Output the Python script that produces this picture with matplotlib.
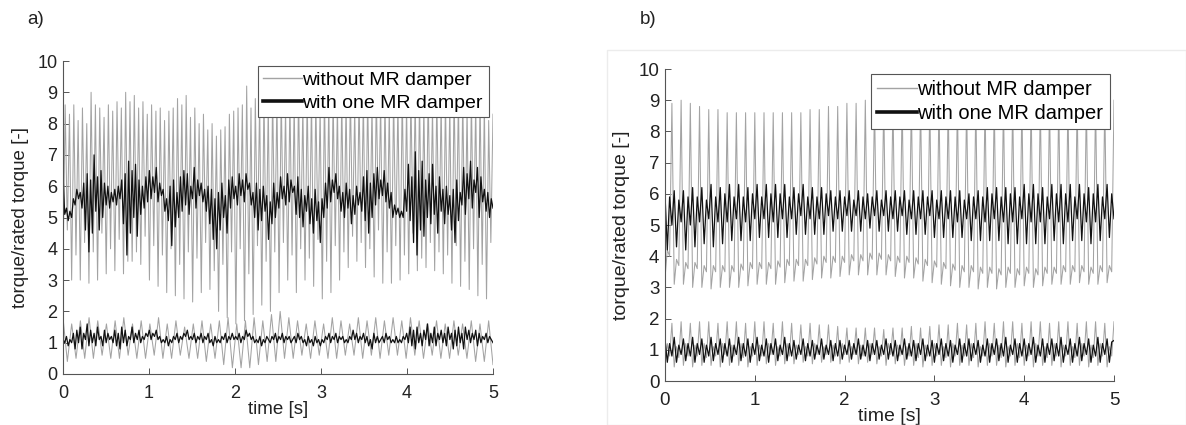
import numpy as np
import matplotlib as mpl
mpl.use('Agg')
import matplotlib.pyplot as plt

plt.rcParams['font.family'] = ['Liberation Sans', 'DejaVu Sans']

# ---- panel a) : extrema read per 0.1 s cycle ----
# gray "without MR damper", upper band: deep trough, first peak, mid dip, second peak
a_gray_trough = [3.4, 3.0, 3.0, 2.9, 3.0, 3.2, 3.3, 3.2, 3.6, 3.5,
                 3.0, 2.8, 2.6, 2.5, 2.4, 2.3, 2.6, 2.7, 2.0, 1.8,
                 1.6, 1.7, 1.9, 2.2, 2.0, 2.6, 3.0, 2.6, 3.0, 2.8,
                 2.4, 2.6, 3.0, 3.4, 3.6, 3.4, 3.1, 2.9, 2.9, 3.0,
                 3.2, 3.3, 3.4, 3.3, 3.2, 2.9, 2.8, 2.7, 2.5, 2.4]
a_gray_peak1 = [8.6, 8.6, 8.5, 9.0, 8.5, 8.6, 8.7, 9.0, 8.9, 8.7,
                8.6, 8.5, 8.4, 8.8, 8.9, 8.5, 8.3, 8.0, 7.8, 8.3,
                8.5, 9.2, 8.8, 8.9, 9.0, 8.9, 8.8, 9.0, 8.9, 8.8,
                9.0, 8.9, 8.8, 9.0, 8.9, 8.9, 9.0, 8.8, 8.9, 9.0,
                8.9, 8.8, 9.0, 8.9, 8.8, 9.0, 8.9, 8.8, 8.9, 8.1]
a_gray_dip = [4.6, 3.8, 4.2, 3.9, 4.5, 4.0, 4.3, 3.6, 3.9, 4.4,
              4.1, 3.8, 4.0, 3.5, 3.9, 3.7, 4.2, 3.3, 3.5, 3.9,
              4.0, 3.2, 4.1, 3.6, 3.9, 4.2, 3.8, 4.0, 3.7, 4.3,
              3.6, 4.1, 3.9, 4.4, 4.2, 4.0, 4.6, 3.9, 4.1, 3.8,
              4.5, 3.7, 4.2, 3.9, 3.8, 4.1, 3.6, 4.0, 3.5, 4.2]
a_gray_peak2 = [8.3, 8.1, 8.0, 8.6, 8.2, 8.4, 8.5, 8.7, 8.5, 8.3,
                8.4, 8.1, 8.5, 8.6, 8.2, 8.0, 7.8, 7.6, 7.9, 8.4,
                8.6, 8.5, 8.7, 8.6, 8.8, 8.5, 8.7, 8.6, 8.8, 8.5,
                8.7, 8.6, 8.7, 8.5, 8.8, 8.6, 8.7, 8.5, 8.7, 8.6,
                8.8, 8.6, 8.5, 8.7, 8.6, 8.8, 8.5, 8.7, 8.6, 8.3]
# gray, lower band: peak, trough
a_gray_low_peak = [1.8, 1.6, 1.7, 1.8, 1.7, 1.6, 1.7, 1.8, 1.6, 1.7,
                   1.6, 1.8, 1.6, 1.7, 1.5, 1.6, 1.7, 1.6, 1.7, 1.8,
                   1.6, 1.7, 1.8, 1.7, 1.9, 2.0, 1.8, 1.7, 1.6, 1.7,
                   1.6, 1.8, 1.7, 1.6, 1.8, 1.7, 1.8, 1.7, 1.8, 1.7,
                   1.8, 1.7, 1.6, 1.7, 1.6, 1.7, 1.6, 1.7, 1.6, 1.7]
a_gray_low_trough = [0.4, 0.5, 0.5, 0.5, 0.6, 0.5, 0.5, 0.6, 0.5, 0.5,
                     0.6, 0.5, 0.5, 0.6, 0.5, 0.5, 0.4, 0.5, 0.3, 0.2,
                     0.2, 0.2, 0.3, 0.4, 0.4, 0.5, 0.5, 0.6, 0.5, 0.6,
                     0.5, 0.5, 0.6, 0.6, 0.5, 0.6, 0.5, 0.6, 0.6, 0.5,
                     0.6, 0.5, 0.6, 0.5, 0.5, 0.6, 0.5, 0.4, 0.4, 0.3]
# black "with one MR damper", sampled every 0.02 s
a_black_high = [
    6.4, 5.1, 5.3, 4.9, 5.2, 5.0, 5.6, 5.4, 5.9, 5.6, 5.8, 5.3, 6.1, 4.6, 6.4, 3.9, 6.2, 4.5, 7.0, 5.2, 6.3, 4.6, 6.5, 5.0, 6.1,
    5.4, 6.0, 5.3, 5.8, 5.5, 5.9, 5.4, 6.0, 5.6, 6.2, 4.8, 6.4, 3.8, 6.8, 4.5, 6.5, 5.0, 6.7, 4.4, 6.2, 5.1, 6.0, 5.3, 6.3, 5.5,
    6.5, 5.6, 6.3, 5.8, 6.6, 5.5, 6.1, 5.7, 5.9, 5.2, 5.6, 4.9, 6.0, 4.1, 6.2, 4.7, 5.8, 5.0, 6.3, 5.2, 6.5, 5.4, 6.4, 5.1, 6.0,
    5.6, 6.6, 5.3, 6.2, 5.7, 6.1, 5.5, 5.9, 5.2, 6.0, 4.8, 5.9, 4.3, 5.6, 4.0, 5.8, 4.6, 6.1, 5.0, 5.7, 4.5, 6.2, 5.3, 6.3, 5.6,
    6.0, 5.4, 6.4, 5.7, 6.2, 5.5, 6.4, 5.9, 6.1, 5.4, 5.8, 5.0, 6.1, 4.6, 5.9, 4.9, 6.0, 5.2, 5.7, 4.3, 5.5, 4.8, 6.1, 5.0, 5.8,
    5.3, 6.3, 5.6, 6.0, 5.4, 6.4, 5.5, 6.2, 5.8, 6.0, 5.1, 6.3, 5.0, 5.9, 4.7, 5.7, 5.2, 6.0, 4.8, 5.6, 4.5, 5.9, 4.9, 5.5, 4.2,
    5.6, 5.0, 6.1, 5.3, 6.6, 5.5, 6.2, 5.8, 6.4, 5.6, 6.0, 5.2, 5.8, 5.0, 6.1, 5.3, 5.9, 4.8, 5.7, 5.1, 6.0, 5.4, 5.8, 5.2, 6.3,
    4.9, 6.5, 4.5, 6.1, 5.0, 6.4, 5.4, 6.6, 5.6, 6.2, 5.7, 6.5, 5.5, 6.1, 5.3, 5.8, 5.0, 5.4, 5.1, 5.3, 5.0, 5.2, 5.0, 5.9, 5.2,
    6.7, 4.9, 6.3, 4.2, 7.1, 3.8, 6.5, 4.6, 6.8, 4.4, 6.2, 5.0, 6.4, 4.8, 6.7, 5.1, 6.0, 4.5, 6.3, 5.2, 5.9, 4.8, 6.0, 5.1, 5.7,
    4.6, 5.9, 4.2, 6.2, 4.9, 5.8, 5.4, 6.6, 5.1, 6.4, 5.6, 6.8, 5.3, 6.2, 5.8, 6.6, 5.0, 6.3, 5.5, 5.9, 5.2, 5.8, 5.0, 5.6, 5.3]
a_black_low = [
    1.1, 1.0, 1.2, 0.9, 1.1, 1.0, 1.3, 0.8, 1.4, 1.0, 1.5, 0.8, 1.3, 1.1, 1.6, 0.9, 1.4, 1.0, 1.3, 0.9, 1.5, 1.1, 1.2, 0.9, 1.4,
    1.0, 1.3, 1.1, 1.2, 1.0, 1.4, 0.9, 1.3, 0.8, 1.5, 1.0, 1.4, 0.9, 1.2, 1.1, 1.5, 1.0, 1.3, 1.1, 1.4, 1.0, 1.2, 1.1, 1.3, 1.2,
    1.4, 1.1, 1.3, 1.2, 1.4, 1.1, 1.2, 1.0, 1.1, 1.0, 1.2, 0.9, 1.1, 1.0, 1.2, 1.1, 1.3, 1.0, 1.2, 1.1, 1.3, 1.2, 1.4, 1.1, 1.2,
    1.1, 1.3, 1.0, 1.2, 1.1, 1.3, 1.0, 1.2, 1.1, 1.3, 1.0, 1.1, 0.9, 1.2, 1.0, 1.1, 1.0, 1.2, 1.1, 1.3, 1.0, 1.2, 1.1, 1.3, 1.1,
    1.2, 1.1, 1.3, 1.0, 1.2, 1.1, 1.4, 1.2, 1.3, 1.1, 1.2, 1.0, 1.1, 1.0, 1.2, 0.9, 1.1, 1.0, 1.2, 1.1, 1.0, 1.2, 1.1, 1.3, 1.0,
    1.2, 1.1, 1.3, 1.0, 1.2, 1.1, 1.2, 1.0, 1.1, 1.2, 1.0, 1.3, 1.1, 1.2, 1.0, 1.1, 0.9, 1.2, 1.0, 1.1, 0.9, 1.2, 1.0, 1.1, 0.9,
    1.1, 1.0, 1.2, 1.1, 1.3, 1.0, 1.2, 1.1, 1.3, 1.0, 1.2, 1.1, 1.2, 1.0, 1.1, 1.0, 1.2, 1.1, 1.4, 1.1, 1.3, 1.0, 1.2, 1.1, 1.3,
    1.0, 1.2, 0.9, 1.1, 0.8, 1.3, 1.0, 1.2, 1.0, 1.1, 1.2, 1.0, 1.3, 1.1, 1.2, 1.0, 1.1, 1.0, 1.2, 1.0, 1.1, 1.0, 1.2, 1.1, 1.3,
    1.0, 1.5, 0.9, 1.4, 0.8, 1.5, 1.0, 1.3, 0.9, 1.4, 1.1, 1.6, 0.9, 1.3, 1.0, 1.5, 0.9, 1.3, 1.1, 1.4, 1.0, 1.3, 0.9, 1.5, 1.1,
    1.3, 0.8, 1.4, 0.9, 1.5, 1.0, 1.3, 0.8, 1.5, 1.1, 1.4, 1.0, 1.3, 1.1, 1.4, 0.9, 1.3, 1.0, 1.2, 1.1, 1.3, 1.0, 1.2, 1.1, 1.0]

# ---- panel b) : extrema read per cycle (49 cycles in 5 s) ----
b_gray_trough = [3.3, 3.1, 3.1, 3.0, 3.0, 2.95, 3.0, 3.0, 3.0, 3.05,
                 3.1, 3.1, 3.1, 3.15, 3.2, 3.2, 3.25, 3.3, 3.3, 3.35,
                 3.4, 3.4, 3.4, 3.4, 3.4, 3.35, 3.3, 3.3, 3.2, 3.15,
                 3.1, 3.05, 3.0, 3.0, 2.95, 3.0, 2.95, 3.0, 3.0, 3.05,
                 3.0, 3.05, 3.1, 3.1, 3.1, 3.15, 3.1, 3.1, 3.15]
b_gray_hump = [4.2, 3.9, 3.8, 3.8, 3.7, 3.7, 3.7, 3.7, 3.75, 3.8,
               3.8, 3.8, 3.85, 3.9, 3.9, 3.9, 3.95, 4.0, 4.0, 4.0,
               4.05, 4.05, 4.1, 4.1, 4.05, 4.0, 4.0, 3.95, 3.9, 3.85,
               3.8, 3.75, 3.7, 3.7, 3.65, 3.65, 3.6, 3.65, 3.6, 3.65,
               3.6, 3.65, 3.65, 3.7, 3.7, 3.7, 3.65, 3.7, 3.7]
b_gray_dip = [4.0, 3.7, 3.6, 3.6, 3.5, 3.5, 3.5, 3.5, 3.55, 3.6,
              3.6, 3.6, 3.65, 3.7, 3.7, 3.7, 3.75, 3.8, 3.8, 3.8,
              3.85, 3.85, 3.9, 3.9, 3.85, 3.8, 3.8, 3.75, 3.7, 3.65,
              3.6, 3.55, 3.5, 3.5, 3.45, 3.45, 3.4, 3.45, 3.4, 3.45,
              3.4, 3.45, 3.45, 3.5, 3.5, 3.5, 3.45, 3.5, 3.5]
b_gray_peak = [8.9, 9.0, 8.9, 8.8, 8.7, 8.7, 8.6, 8.6, 8.6, 8.6,
               8.6, 8.6, 8.6, 8.6, 8.6, 8.7, 8.7, 8.8, 8.8, 8.9,
               8.9, 9.0, 9.0, 9.0, 9.0, 9.0, 9.0, 9.0, 9.0, 9.0,
               9.0, 9.0, 9.0, 9.0, 9.0, 9.0, 9.0, 9.0, 9.0, 9.0,
               9.0, 9.0, 9.0, 9.0, 9.0, 9.0, 9.0, 9.0, 9.0]
b_gray_low_min = [0.5, 0.45, 0.5, 0.45, 0.5, 0.5, 0.45, 0.5, 0.5, 0.45,
                  0.5, 0.55, 0.5, 0.55, 0.55, 0.6, 0.55, 0.6, 0.6, 0.55,
                  0.6, 0.55, 0.6, 0.55, 0.5, 0.55, 0.5, 0.5, 0.45, 0.5,
                  0.5, 0.45, 0.5, 0.5, 0.45, 0.5, 0.5, 0.45, 0.5, 0.5,
                  0.45, 0.5, 0.5, 0.45, 0.5, 0.5, 0.45, 0.5, 0.45]
b_gray_low_bump = [1.2, 1.1, 1.2, 1.15, 1.2, 1.1, 1.2, 1.15, 1.2, 1.1,
                   1.15, 1.2, 1.1, 1.2, 1.15, 1.1, 1.2, 1.1, 1.15, 1.2,
                   1.1, 1.15, 1.2, 1.1, 1.2, 1.15, 1.1, 1.2, 1.15, 1.2,
                   1.1, 1.2, 1.15, 1.2, 1.1, 1.2, 1.15, 1.1, 1.2, 1.15,
                   1.2, 1.1, 1.2, 1.15, 1.1, 1.2, 1.15, 1.2, 1.1]
b_gray_low_dip = [0.8, 0.75, 0.8, 0.8, 0.75, 0.8, 0.85, 0.8, 0.75, 0.8,
                  0.8, 0.85, 0.8, 0.8, 0.85, 0.8, 0.85, 0.85, 0.8, 0.85,
                  0.85, 0.8, 0.85, 0.8, 0.85, 0.8, 0.8, 0.75, 0.8, 0.8,
                  0.75, 0.8, 0.8, 0.75, 0.8, 0.8, 0.75, 0.8, 0.75, 0.8,
                  0.8, 0.75, 0.8, 0.8, 0.75, 0.8, 0.75, 0.8, 0.8]
b_gray_low_peak = [1.85, 1.9, 1.85, 1.9, 1.9, 1.85, 1.9, 1.9, 1.85, 1.9,
                   1.9, 1.85, 1.9, 1.85, 1.8, 1.85, 1.8, 1.8, 1.75, 1.7,
                   1.7, 1.7, 1.7, 1.65, 1.7, 1.7, 1.75, 1.7, 1.75, 1.8,
                   1.8, 1.85, 1.8, 1.85, 1.9, 1.85, 1.9, 1.9, 1.85, 1.9,
                   1.9, 1.85, 1.9, 1.9, 1.85, 1.9, 1.9, 1.85, 1.9]
b_black_hi1 = [6.0, 6.1, 6.1, 6.2, 6.2, 6.3, 6.2, 6.3, 6.3, 6.2,
               6.3, 6.3, 6.3, 6.3, 6.2, 6.3, 6.2, 6.2, 6.1, 6.1,
               6.1, 6.1, 6.0, 6.1, 6.1, 6.1, 6.1, 6.1, 6.1, 6.1,
               6.1, 6.1, 6.1, 6.0, 6.1, 6.2, 6.2, 6.2, 6.2, 6.3,
               6.3, 6.2, 6.3, 6.3, 6.3, 6.3, 6.2, 6.3, 6.3]
b_black_lo1 = [4.2, 4.3, 4.2, 4.3, 4.4, 4.3, 4.4, 4.5, 4.5, 4.5,
               4.6, 4.6, 4.6, 4.6, 4.7, 4.7, 4.7, 4.7, 4.8, 4.8,
               4.8, 4.8, 4.9, 4.8, 4.8, 4.8, 4.7, 4.7, 4.7, 4.6,
               4.6, 4.6, 4.6, 4.5, 4.5, 4.5, 4.5, 4.4, 4.4, 4.4,
               4.4, 4.4, 4.5, 4.4, 4.5, 4.5, 4.4, 4.5, 4.6]
b_black_hi2 = [5.9, 5.8, 5.9, 5.9, 5.8, 5.9, 6.0, 5.9, 5.9, 6.0,
               5.9, 6.0, 6.0, 5.9, 6.0, 5.9, 5.9, 6.0, 5.9, 5.9,
               5.8, 5.9, 5.9, 5.8, 5.9, 5.9, 5.8, 5.9, 5.9, 5.8,
               5.9, 5.9, 5.8, 5.9, 5.9, 6.0, 5.9, 6.0, 5.9, 6.0,
               6.0, 5.9, 6.0, 6.0, 5.9, 6.0, 6.0, 5.9, 6.0]
b_black_lo2 = [5.0, 5.1, 5.0, 5.1, 5.2, 5.1, 5.1, 5.2, 5.1, 5.2,
               5.2, 5.1, 5.2, 5.2, 5.3, 5.2, 5.2, 5.3, 5.2, 5.3,
               5.3, 5.2, 5.3, 5.3, 5.2, 5.3, 5.2, 5.2, 5.3, 5.2,
               5.2, 5.1, 5.2, 5.2, 5.1, 5.2, 5.1, 5.1, 5.2, 5.1,
               5.1, 5.2, 5.1, 5.1, 5.2, 5.1, 5.1, 5.2, 5.2]
b_black_low_hi1 = [1.35, 1.4, 1.35, 1.4, 1.35, 1.4, 1.35, 1.35, 1.4, 1.35,
                   1.4, 1.35, 1.35, 1.4, 1.3, 1.35, 1.3, 1.35, 1.3, 1.3,
                   1.3, 1.35, 1.3, 1.3, 1.35, 1.3, 1.35, 1.3, 1.35, 1.3,
                   1.35, 1.3, 1.35, 1.35, 1.3, 1.35, 1.35, 1.4, 1.35, 1.35,
                   1.4, 1.35, 1.35, 1.4, 1.35, 1.4, 1.35, 1.4, 1.35]
b_black_low_lo1 = [0.6, 0.6, 0.65, 0.6, 0.6, 0.65, 0.6, 0.6, 0.65, 0.6,
                   0.65, 0.6, 0.65, 0.65, 0.7, 0.65, 0.7, 0.7, 0.65, 0.7,
                   0.7, 0.7, 0.65, 0.7, 0.7, 0.65, 0.7, 0.65, 0.65, 0.6,
                   0.65, 0.6, 0.6, 0.65, 0.6, 0.6, 0.65, 0.6, 0.6, 0.65,
                   0.6, 0.6, 0.65, 0.6, 0.6, 0.65, 0.6, 0.6, 0.6]
b_black_low_hi2 = [1.2, 1.15, 1.2, 1.2, 1.15, 1.2, 1.2, 1.15, 1.2, 1.2,
                   1.15, 1.2, 1.15, 1.2, 1.15, 1.2, 1.15, 1.15, 1.2, 1.15,
                   1.2, 1.15, 1.2, 1.15, 1.2, 1.15, 1.2, 1.2, 1.15, 1.2,
                   1.2, 1.15, 1.2, 1.2, 1.15, 1.2, 1.2, 1.15, 1.2, 1.2,
                   1.15, 1.2, 1.2, 1.15, 1.2, 1.2, 1.15, 1.2, 1.25]
b_black_low_lo2 = [0.8, 0.85, 0.8, 0.85, 0.8, 0.85, 0.8, 0.85, 0.8, 0.85,
                   0.8, 0.85, 0.85, 0.8, 0.85, 0.8, 0.85, 0.85, 0.8, 0.85,
                   0.85, 0.8, 0.85, 0.85, 0.8, 0.85, 0.8, 0.85, 0.8, 0.85,
                   0.8, 0.85, 0.8, 0.85, 0.8, 0.85, 0.8, 0.85, 0.8, 0.85,
                   0.8, 0.85, 0.8, 0.85, 0.8, 0.85, 0.8, 0.85, 1.3]

x_ticks = [0, 1, 2, 3, 4, 5]
y_ticks = [0, 1, 2, 3, 4, 5, 6, 7, 8, 9, 10]
legend_labels = ['without MR damper', 'with one MR damper']
panel_labels = ['a)', 'b)']

GRAY = '#a3a3a3'
BLACK = '#111111'


def chain(*cols):
    # interleave the per-cycle extrema into one polyline
    return np.column_stack(cols).ravel()


def draw(ax, gray_series, black_series, fs_tick, fs_lab, fs_leg):
    for y in gray_series:
        ax.plot(np.linspace(0, 5, len(y)), y, color=GRAY, lw=0.75)
    for y in black_series:
        ax.plot(np.linspace(0, 5, len(y)), y, color=BLACK, lw=0.9)
    ax.set_xlim(0, 5)
    ax.set_ylim(0, 10)
    ax.set_xticks(x_ticks)
    ax.set_yticks(y_ticks)
    for s in ['top', 'right']:
        ax.spines[s].set_visible(False)
    for s in ['left', 'bottom']:
        ax.spines[s].set_color('#555555')
        ax.spines[s].set_linewidth(0.8)
    ax.tick_params(direction='in', length=4, width=0.7, colors='#555555',
                   labelcolor='#222222', labelsize=fs_tick)
    ax.tick_params(axis='x', pad=8)
    ax.tick_params(axis='y', pad=4)
    ax.set_xlabel('time [s]', fontsize=fs_lab, color='#222222', labelpad=-1)
    ax.set_ylabel('torque/rated torque [-]', fontsize=fs_lab, color='#222222', labelpad=6)
    h1, = ax.plot([], [], color=GRAY, lw=1.0)
    h2, = ax.plot([], [], color=BLACK, lw=2.6)
    leg = ax.legend([h1, h2], legend_labels, loc='upper right', bbox_to_anchor=(0.99, 0.985),
                    fontsize=fs_leg, fancybox=False, framealpha=1, edgecolor='#555555',
                    handlelength=2.0, handletextpad=0.0, borderpad=0.3,
                    labelspacing=0.25, borderaxespad=0.0)
    leg.get_frame().set_linewidth(0.8)
    leg.set_zorder(10)


fig = plt.figure(figsize=(11.86, 4.25), dpi=100)

ax_a = fig.add_axes([63 / 1186, 1 - 374 / 425, 430 / 1186, 313 / 425])
draw(ax_a,
     [chain(a_gray_trough, a_gray_peak1, a_gray_dip, a_gray_peak2),
      chain(a_gray_low_peak, a_gray_low_trough)],
     [a_black_high, a_black_low], 13, 13.5, 14)

ax_b = fig.add_axes([665 / 1186, 1 - 381 / 425, 449 / 1186, 312 / 425])
draw(ax_b,
     [chain(b_gray_trough, b_gray_hump, b_gray_dip, b_gray_peak),
      chain(b_gray_low_min, b_gray_low_bump, b_gray_low_dip, b_gray_low_peak)],
     [chain(b_black_hi1, b_black_lo1, b_black_hi2, b_black_lo2),
      chain(b_black_low_hi1, b_black_low_lo1, b_black_low_hi2, b_black_low_lo2)],
     13.5, 14, 14.5)

# faint frame of the scanned panel b)
fig.patches.append(mpl.patches.Rectangle((607 / 1186, 0), 579 / 1186, 1 - 50 / 425,
                                         transform=fig.transFigure, fill=False,
                                         edgecolor='#ececec', lw=1.0))

fig.text(27 / 1186, 1 - 20 / 425, panel_labels[0], fontsize=13.5, va='center', color='#222222')
fig.text(640 / 1186, 1 - 20 / 425, panel_labels[1], fontsize=13.5, va='center', color='#222222')

plt.savefig('out.png', dpi=100)
